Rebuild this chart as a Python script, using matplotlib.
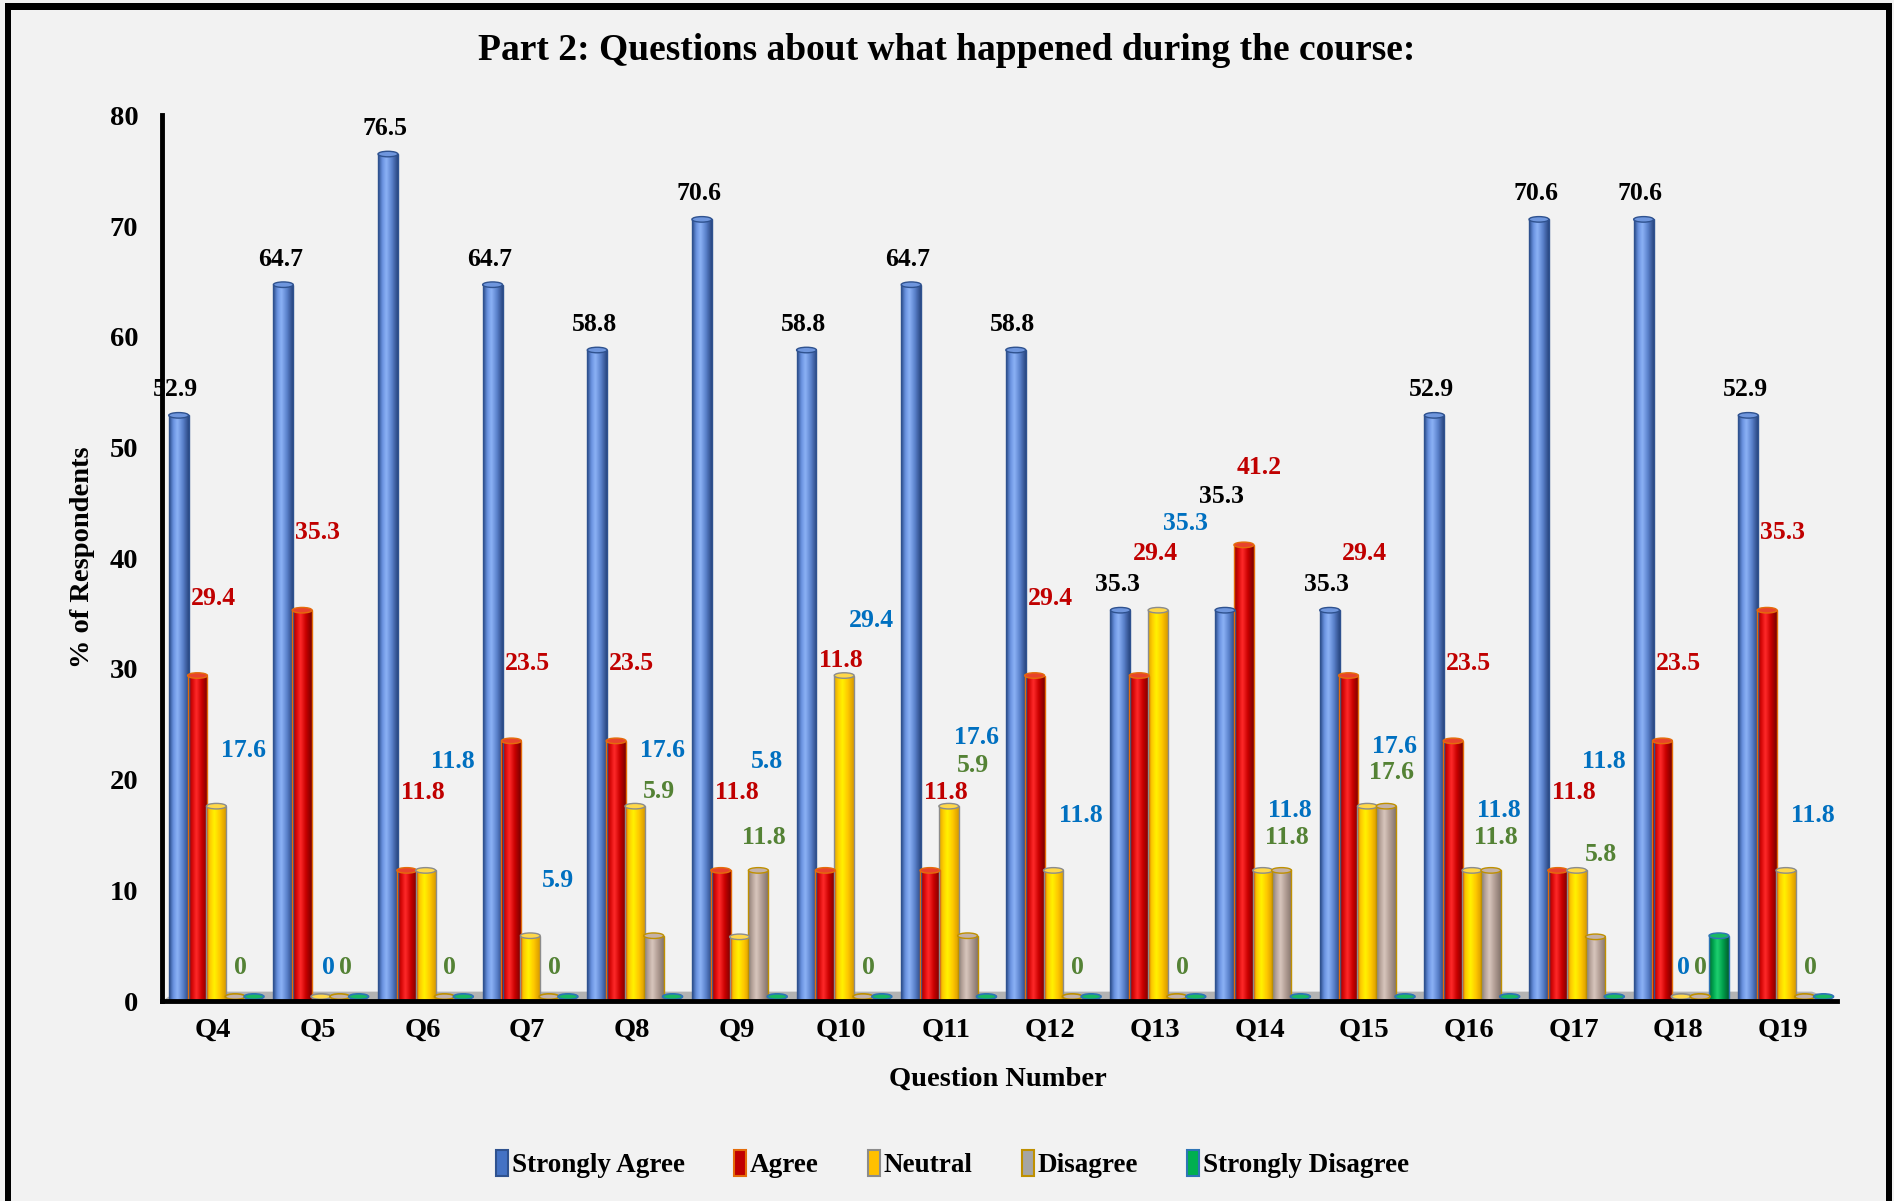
import numpy as np
import matplotlib.pyplot as plt
from matplotlib.colors import LinearSegmentedColormap
from matplotlib.patches import Ellipse, Patch, Polygon, Rectangle

plt.rcParams['font.family'] = ['Liberation Serif', 'DejaVu Serif']
plt.rcParams['font.weight'] = 'bold'

questions = ['Q4', 'Q5', 'Q6', 'Q7', 'Q8', 'Q9', 'Q10', 'Q11',
             'Q12', 'Q13', 'Q14', 'Q15', 'Q16', 'Q17', 'Q18', 'Q19']
strongly_agree = [52.9, 64.7, 76.5, 64.7, 58.8, 70.6, 58.8, 64.7,
                  58.8, 35.3, 35.3, 35.3, 52.9, 70.6, 70.6, 52.9]
agree = [29.4, 35.3, 11.8, 23.5, 23.5, 11.8, 11.8, 11.8,
         29.4, 29.4, 41.2, 29.4, 23.5, 11.8, 23.5, 35.3]
neutral = [17.6, 0, 11.8, 5.9, 17.6, 5.8, 29.4, 17.6,
           11.8, 35.3, 11.8, 17.6, 11.8, 11.8, 0, 11.8]
disagree = [0, 0, 0, 0, 5.9, 11.8, 0, 5.9,
            0, 0, 11.8, 17.6, 11.8, 5.8, 0, 0]
strongly_disagree = [0, 0, 0, 0, 0, 0, 0, 0,
                     0, 0, 0, 0, 0, 0, 5.9, 0]
names = ['Strongly Agree', 'Agree', 'Neutral', 'Disagree', 'Strongly Disagree']
series = [strongly_agree, agree, neutral, disagree, strongly_disagree]

# cylinder look: horizontal gradient per series
stops = [0, 0.22, 0.42, 0.7, 1]
shades = [
    ['#2B4C8C', '#6A93E0', '#8CB2F6', '#5B82CC', '#2A4782'],
    ['#8E0000', '#D80808', '#FF2A2A', '#C80000', '#7A0000'],
    ['#E0A400', '#FFD000', '#FFF200', '#FFC800', '#D89A00'],
    ['#8C7C74', '#B8A59C', '#D8C6BD', '#B09C93', '#85756D'],
    ['#006B34', '#00A850', '#1FD070', '#00A04C', '#00602E'],
]
base = ['#4472C4', '#C00000', '#FFC000', '#A5A5A5', '#00B050']
edges = ['#2F528F', '#E46C0A', '#8C8C8C', '#BF9000', '#2E75B6']
caps = ['#6F96DD', '#E8432C', '#FFD84A', '#C4B2A9', '#19B863']
label_colors = ['black', '#C00000', '#0070C0', '#548235']

fig = plt.figure(figsize=(18.94, 12.01), dpi=100, facecolor='#F2F2F2')
ax = fig.add_axes([0.0855, 0.1665, 0.8845, 0.7375])
ax.set_facecolor('none')

x = np.arange(len(questions))
width = 0.19
step = 0.18
first = -0.33
cap_h = 0.5
grad = np.linspace(0, 1, 64).reshape(1, -1)

# floor of the 3D plot
ax.add_patch(Polygon([(-0.49, 0), (15.52, 0), (15.28, 0.85), (-0.35, 0.85)],
                     closed=True, facecolor='#B3B3B3', edgecolor='none', zorder=1))

bar_boxes = []
for j, vals in enumerate(series):
    pos = x + first + j * step
    cmap = LinearSegmentedColormap.from_list('s%d' % j, list(zip(stops, shades[j])))
    bars = ax.bar(pos, vals, width, facecolor='none', edgecolor=edges[j],
                  linewidth=1.0, zorder=4 + 0.1 * j)
    for b, v in zip(bars, vals):
        xc = b.get_x() + width / 2
        bar_boxes.append((b.get_x(), b.get_x() + width, 0, v))
        if v > 0:
            im = ax.imshow(grad, cmap=cmap, aspect='auto', interpolation='bicubic',
                           extent=(b.get_x(), b.get_x() + width, 0, v), zorder=3 + 0.1 * j)
            im.set_clip_path(b)
            ax.add_patch(Ellipse((xc, v), width, cap_h, facecolor=caps[j],
                                 edgecolor=edges[j], linewidth=1.0, zorder=5))
        else:
            ax.add_patch(Ellipse((xc, 0.4), width, cap_h, facecolor=caps[j],
                                 edgecolor=edges[j], linewidth=1.2, zorder=5))


def overlaps(a, b):
    return a[0] < b[1] and b[0] < a[1] and a[2] < b[3] and b[2] < a[3]


def is_free(xc, y, half, others):
    box = (xc - half, xc + half, y - 1.2, y + 1.2)
    return not any(overlaps(box, bb) for bb in others)


# data labels, nudged when they would hit a bar or another label
label_dx = [-0.03, 0.15, 0.26, 0.05]
label_dy = [2.3, 7.0, 5.0, 3.0]
placed = []
for i in range(len(questions)):
    for j in [0, 1, 3, 2]:
        v = series[j][i]
        txt = f'{v:g}'
        xc = x[i] + first + j * step + label_dx[j]
        half = (0.12 * sum(c.isdigit() for c in txt) + 0.06 * txt.count('.')) / 2 + 0.02
        y = v + (label_dy[j] if v else 3.0)
        others = bar_boxes + placed
        if not is_free(xc, y, half, others):
            moved = False
            if v == 0:
                # zero labels slide left along the floor
                for k in range(1, 41):
                    if is_free(xc - 0.01 * k, y, half, others):
                        xc -= 0.01 * k
                        moved = True
                        break
            while not moved and not is_free(xc, y, half, others):
                y += 0.4
        placed.append((xc - half, xc + half, y - 1.2, y + 1.2))
        ax.text(xc, y, txt, ha='center', va='center', fontsize=18.5,
                fontweight='bold', color=label_colors[j], zorder=6)

ax.set_xlim(-0.49, 15.52)
ax.set_ylim(0, 80)
ax.set_yticks(range(0, 81, 10))
ax.set_xticks(x)
ax.set_xticklabels(questions)
ax.tick_params(axis='both', length=0, labelsize=20.5)
ax.tick_params(axis='y', pad=17)
ax.tick_params(axis='x', pad=12)
for s in ['top', 'right']:
    ax.spines[s].set_visible(False)
for s in ['left', 'bottom']:
    ax.spines[s].set_linewidth(3.5)
    ax.spines[s].set_zorder(7)

fig.text(0.5, 0.958, 'Part 2: Questions about what happened during the course:',
         ha='center', va='center', fontsize=27, fontweight='bold')
fig.text(0.527, 0.101, 'Question Number', ha='center', va='center',
         fontsize=20.5, fontweight='bold')
fig.text(0.0433, 0.536, '% of Respondents', ha='center', va='center',
         rotation=90, fontsize=20.5, fontweight='bold')

handles = [Patch(facecolor=base[j], edgecolor=edges[j], linewidth=1.5) for j in range(5)]
fig.legend(handles, names, loc='center', bbox_to_anchor=(0.503, 0.031), ncol=5,
           frameon=False, fontsize=19.5, handlelength=0.45, handleheight=1.1,
           handletextpad=0.15, columnspacing=1.8)

# outer frame (left, top, right)
W, H = 1894, 1201
for (x0, y0, w, h) in [(5, 0, 6, H - 3), (5, H - 10, 1887, 7), (1886, 0, 6, H - 3)]:
    fig.patches.append(Rectangle((x0 / W, y0 / H), w / W, h / H, transform=fig.transFigure,
                                 facecolor='black', edgecolor='none'))

fig.savefig('out.png', dpi=100, facecolor=fig.get_facecolor())
